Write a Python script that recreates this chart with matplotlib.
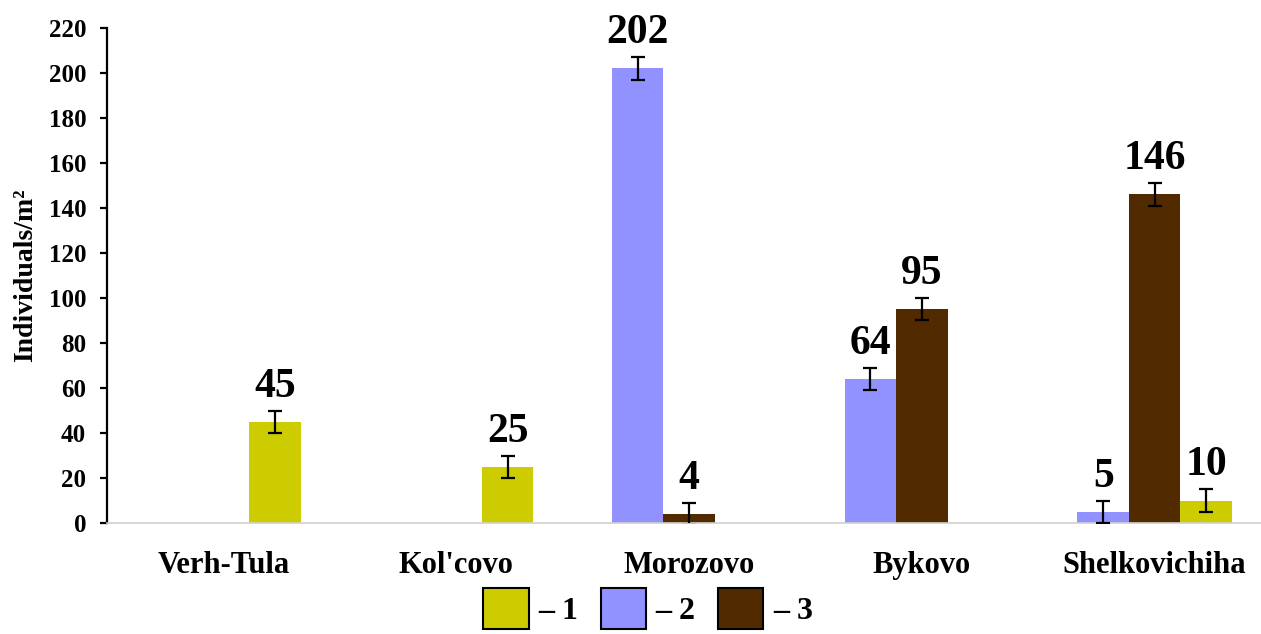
import numpy as np
import matplotlib.pyplot as plt
from matplotlib.patches import Patch

# data
sites = ["Verh-Tula", "Kol'covo", "Morozovo", "Bykovo", "Shelkovichiha"]
series_names = ["1", "2", "3"]
vals_1 = [45, 25, 0, 0, 10]
vals_2 = [0, 0, 202, 64, 5]
vals_3 = [0, 0, 4, 95, 146]
err = 5

colors = {"1": "#CCCC00", "2": "#9191FF", "3": "#512A00"}

plt.rcParams['font.family'] = ['Liberation Serif', 'DejaVu Serif']
plt.rcParams['font.weight'] = 'bold'

fig = plt.figure(figsize=(12.61, 6.34), dpi=100)
ax = fig.add_axes([0.0849, 0.175, 0.9151, 0.781])

x = np.arange(len(sites))
w = 0.221

# bar order inside each group: 2, 3, 1
groups = [(vals_2, "2", -w), (vals_3, "3", 0), (vals_1, "1", w)]
for vals, name, off in groups:
    for xi, v in zip(x, vals):
        if v == 0:
            continue
        ax.bar(xi + off, v, width=w, color=colors[name], zorder=2)
        ax.errorbar(xi + off, v, yerr=err, fmt='none', ecolor='black',
                    elinewidth=1.6, capsize=5, capthick=1.6, zorder=3)
        ax.annotate(str(v), (xi + off, v + err), xytext=(0, 10),
                    textcoords='offset points', ha='center', va='baseline',
                    fontsize=30, fontweight='bold')

ax.set_xlim(-0.5, 4.457)
ax.set_ylim(0, 220)
ax.set_yticks(np.arange(0, 221, 20))
ax.set_xticks(x)
ax.set_xticklabels(sites, fontsize=22, fontweight='bold')
ax.tick_params(axis='x', length=0, pad=20)
ax.tick_params(axis='y', length=5, width=1.6, pad=10, labelsize=18)

for s in ['top', 'right']:
    ax.spines[s].set_visible(False)
ax.spines['left'].set_linewidth(1.6)
ax.spines['bottom'].set_color('#D0D0D0')
ax.spines['bottom'].set_linewidth(1.2)

ax.set_ylabel('Individuals/m²', fontsize=20, fontweight='bold')
ax.yaxis.set_label_coords(-0.06, 0.5)

handles = [Patch(facecolor=colors[n], edgecolor='black', linewidth=1.5) for n in series_names]
labels = ['– ' + n for n in series_names]
fig.legend(handles, labels, loc='upper center', bbox_to_anchor=(0.514, 0.0726),
           ncol=3, frameon=False, fontsize=23, handlelength=1.42, handleheight=1.6,
           handletextpad=0.3, columnspacing=0.7, borderpad=0, borderaxespad=0)

plt.savefig('out.png', dpi=100)
